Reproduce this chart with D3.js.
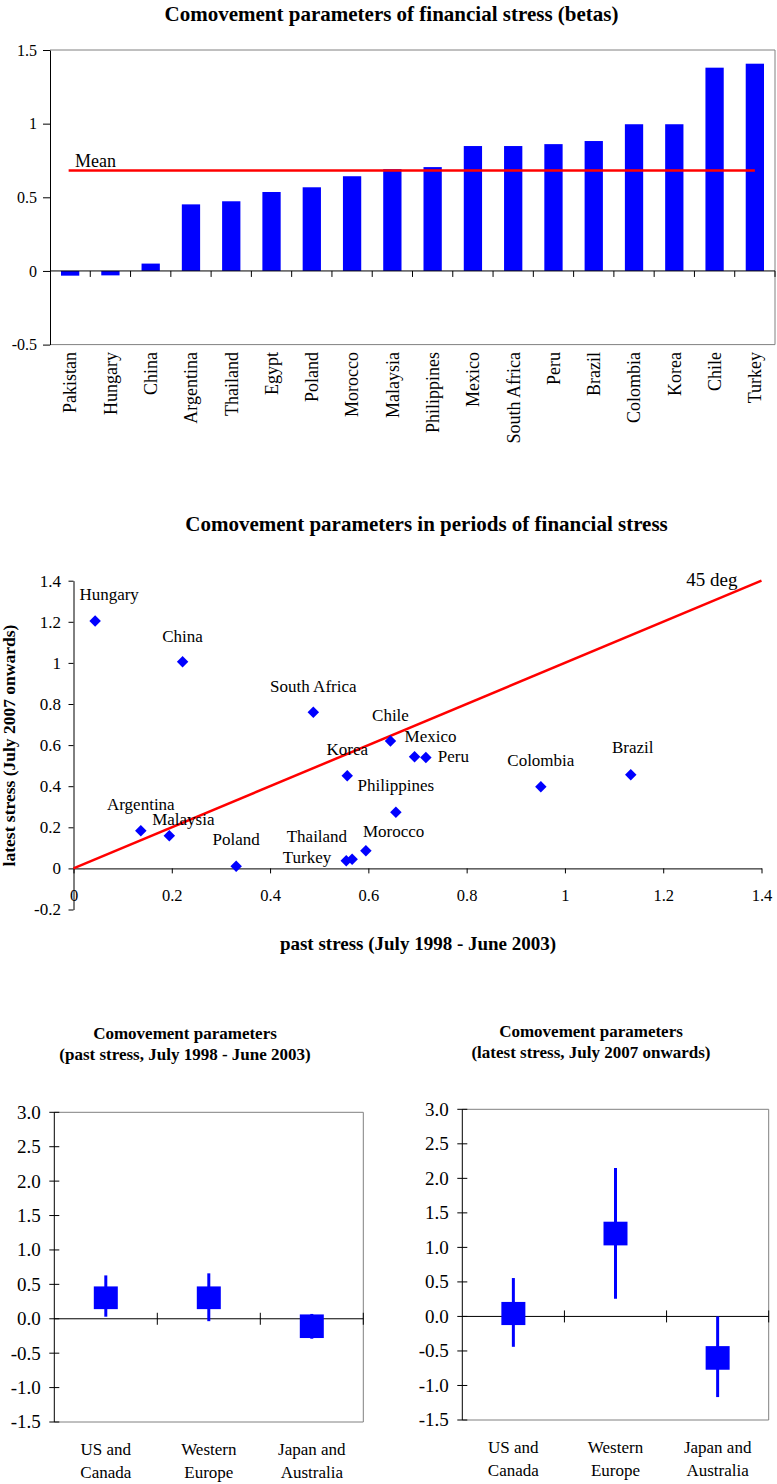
<!DOCTYPE html>
<html>
<head>
<meta charset="utf-8">
<script src="https://cdn.jsdelivr.net/npm/d3@7"></script>
<style>
  html, body { margin: 0; padding: 0; background: #fff; }
  svg { display: block; font-family: "Liberation Serif", "Times New Roman", serif; }
</style>
</head>
<body>
<svg id="chart" width="777" height="1484"></svg>
<script>
// ---------- Betas by country ----------
const betaCountries = ["Pakistan", "Hungary", "China", "Argentina", "Thailand", "Egypt", "Poland",
  "Morocco", "Malaysia", "Philippines", "Mexico", "South Africa", "Peru", "Brazil", "Colombia",
  "Korea", "Chile", "Turkey"];
const betaValues = [-0.032, -0.03, 0.05, 0.452, 0.473, 0.536, 0.568, 0.643, 0.691, 0.705, 0.848,
  0.848, 0.861, 0.882, 0.996, 0.996, 1.38, 1.407];
const betaTicks = [-0.5, 0, 0.5, 1, 1.5];

// ---------- Past vs latest stress ----------
const stressCountries = ["Hungary", "China", "South Africa", "Chile", "Mexico", "Peru", "Korea",
  "Philippines", "Colombia", "Brazil", "Argentina", "Malaysia", "Poland", "Thailand", "Turkey", "Morocco"];
const pastStress = [0.044, 0.222, 0.488, 0.645, 0.694, 0.717, 0.557, 0.656, 0.951, 1.134, 0.137,
  0.195, 0.331, 0.567, 0.555, 0.595];
const latestStress = [1.204, 1.006, 0.760, 0.620, 0.543, 0.540, 0.451, 0.273, 0.397, 0.456, 0.183,
  0.159, 0.011, 0.044, 0.037, 0.086];
const stressTicksX = [0, 0.2, 0.4, 0.6, 0.8, 1, 1.2, 1.4];
const stressTicksY = [-0.2, 0, 0.2, 0.4, 0.6, 0.8, 1, 1.2, 1.4];

// ---------- Regional comovement ranges ----------
const regionNames = ["US and Canada", "Western Europe", "Japan and Australia"];
const regionLines = [["US and", "Canada"], ["Western", "Europe"], ["Japan and", "Australia"]];
const pastWhiskerLow  = [0.03, -0.035, -0.29];
const pastBoxLow      = [0.14, 0.14, -0.28];
const pastBoxHigh     = [0.47, 0.47, 0.063];
const pastWhiskerHigh = [0.63, 0.66, 0.07];
const latestWhiskerLow  = [-0.44, 0.256, -1.168];
const latestBoxLow      = [-0.125, 1.029, -0.772];
const latestBoxHigh     = [0.21, 1.372, -0.43];
const latestWhiskerHigh = [0.556, 2.15, 0.0];
const rangeTicks = [-1.5, -1, -0.5, 0, 0.5, 1, 1.5, 2, 2.5, 3];

// label placement around scatter points (anchor, dx, dy in px)
const labelPlacement = {
  "Hungary": ["middle", 14, -21], "China": ["middle", 0, -20], "South Africa": ["middle", 0, -20],
  "Chile": ["middle", 0, -20], "Mexico": ["middle", 16, -15], "Peru": ["start", 12, 5],
  "Korea": ["middle", 0, -21], "Philippines": ["middle", 0, -21], "Colombia": ["middle", 0, -21],
  "Brazil": ["middle", 2, -22], "Argentina": ["middle", 0, -21], "Malaysia": ["middle", 14, -11],
  "Poland": ["middle", 0, -21], "Thailand": ["end", -5, -17], "Turkey": ["end", -15, 2],
  "Morocco": ["start", -3, -14]
};

const FONT = "Liberation Serif, Times New Roman, serif";
const BLUE = "#0000ff", RED = "#ff0000", FRAME = "#808080";
const svg = d3.select("#chart");
svg.append("rect").attr("width", 777).attr("height", 1484).attr("fill", "#fff");

function styleAxis(g, size) {
  g.attr("font-family", FONT).attr("font-size", size);
  g.selectAll("path.domain").attr("stroke", "#000");
  g.selectAll(".tick line").attr("stroke", "#000");
  g.selectAll(".tick text").attr("fill", "#000");
}
const fmt = d => String(+d.toFixed(2));

// =============== Panel 1: bar chart of betas ===============
{
  const box = { left: 50, right: 775, top: 50, bottom: 344.6 };
  const x = d3.scaleBand().domain(betaCountries).range([box.left, box.right])
    .paddingInner(0.546).paddingOuter(0.273);
  const y = d3.scaleLinear().domain([-0.5, 1.5]).range([box.bottom, box.top]);
  const g = svg.append("g");

  g.append("text").attr("x", 391.5).attr("y", 21).attr("text-anchor", "middle")
    .attr("font-weight", "bold").attr("font-size", 21).text("Comovement parameters of financial stress (betas)");

  g.append("path")
    .attr("d", `M${box.left},${box.top}H${box.right}V${box.bottom}H${box.left}`)
    .attr("fill", "none").attr("stroke", FRAME).attr("stroke-width", 1);

  g.selectAll("rect.bar").data(betaCountries).join("rect").attr("class", "bar")
    .attr("x", d => x(d)).attr("width", x.bandwidth())
    .attr("y", (d, i) => y(Math.max(0, betaValues[i])))
    .attr("height", (d, i) => Math.abs(y(betaValues[i]) - y(0)))
    .attr("fill", BLUE);

  const zero = g.append("g").attr("transform", `translate(0,${y(0)})`);
  zero.append("line").attr("x1", box.left).attr("x2", box.right).attr("stroke", "#000");
  zero.selectAll("line.tk").data(d3.range(1, betaCountries.length + 1)).join("line").attr("class", "tk")
    .attr("x1", k => box.left + k * x.step()).attr("x2", k => box.left + k * x.step())
    .attr("y1", 0).attr("y2", 6).attr("stroke", "#000");

  const ya = g.append("g").attr("transform", `translate(${box.left},0)`)
    .call(d3.axisLeft(y).tickValues(betaTicks).tickFormat(fmt).tickSize(7).tickPadding(6).tickSizeOuter(0));
  styleAxis(ya, 16);

  g.selectAll("text.cat").data(betaCountries).join("text").attr("class", "cat")
    .attr("transform", d => `translate(${x(d) + x.bandwidth() / 2},352) rotate(-90)`)
    .attr("text-anchor", "end").attr("dy", "0.35em").attr("font-size", 18).text(d => d);

  const mean = d3.mean(betaValues);
  const c0 = x(betaCountries[0]) + x.bandwidth() / 2;
  const c1 = x(betaCountries[betaCountries.length - 1]) + x.bandwidth() / 2;
  g.append("line").attr("x1", c0 - 1.5).attr("x2", c1).attr("y1", y(mean)).attr("y2", y(mean))
    .attr("stroke", RED).attr("stroke-width", 2.5);
  g.append("text").attr("x", 75).attr("y", y(mean) - 3.5).attr("font-size", 18).text("Mean");
}

// =============== Panel 2: scatter of past vs latest stress ===============
{
  const x = d3.scaleLinear().domain([0, 1.4]).range([73.5, 761.5]);
  const y = d3.scaleLinear().domain([-0.2, 1.4]).range([909.5, 580.7]);
  const g = svg.append("g");

  g.append("text").attr("x", 426.5).attr("y", 531).attr("text-anchor", "middle")
    .attr("font-weight", "bold").attr("font-size", 21)
    .text("Comovement parameters in periods of financial stress");

  const ya = g.append("g").attr("transform", `translate(${x(0)},0)`)
    .call(d3.axisLeft(y).tickValues(stressTicksY).tickFormat(fmt).tickSize(5).tickPadding(7.5).tickSizeOuter(0));
  styleAxis(ya, 17);

  const xa = g.append("g").attr("transform", `translate(0,${y(0)})`)
    .call(d3.axisBottom(x).tickValues(stressTicksX).tickFormat(fmt).tickSize(5).tickPadding(16).tickSizeOuter(0));
  styleAxis(xa, 16.5);

  g.append("line").attr("x1", x(0)).attr("y1", y(0)).attr("x2", x(1.4)).attr("y2", y(1.4))
    .attr("stroke", RED).attr("stroke-width", 2.5);
  g.append("text").attr("x", x(1.4) - 24).attr("y", y(1.4) + 5.5).attr("text-anchor", "end")
    .attr("font-size", 19).text("45 deg");

  const diamond = d3.symbol().type(d3.symbolSquare).size(66)();
  g.selectAll("path.pt").data(stressCountries).join("path").attr("class", "pt")
    .attr("d", diamond)
    .attr("transform", (d, i) => `translate(${x(pastStress[i])},${y(latestStress[i])}) rotate(45)`)
    .attr("fill", BLUE);

  g.selectAll("text.lbl").data(stressCountries).join("text").attr("class", "lbl")
    .attr("x", (d, i) => x(pastStress[i]) + labelPlacement[d][1])
    .attr("y", (d, i) => y(latestStress[i]) + labelPlacement[d][2])
    .attr("text-anchor", d => labelPlacement[d][0])
    .attr("font-size", 17).text(d => d);

  g.append("text").attr("x", 418).attr("y", 950).attr("text-anchor", "middle")
    .attr("font-weight", "bold").attr("font-size", 19).text("past stress (July 1998 - June 2003)");
  g.append("text").attr("transform", "translate(15,745.5) rotate(-90)").attr("text-anchor", "middle")
    .attr("font-weight", "bold").attr("font-size", 17.5).text("latest stress (July 2007 onwards)");
}

// =============== Panels 3 & 4: regional ranges ===============
function drawRanges(box, titleLines, titleX, titleY, wLow, bLow, bHigh, wHigh) {
  const x = d3.scaleBand().domain(regionNames).range([box.left, box.right]);
  const y = d3.scaleLinear().domain([-1.5, 3]).range([box.bottom, box.top]);
  const g = svg.append("g");

  titleLines.forEach((t, i) => {
    g.append("text").attr("x", titleX).attr("y", titleY[i]).attr("text-anchor", "middle")
      .attr("font-weight", "bold").attr("font-size", 17).text(t);
  });

  g.append("path")
    .attr("d", `M${box.left},${box.top}H${box.right}V${box.bottom}H${box.left}`)
    .attr("fill", "none").attr("stroke", FRAME);

  // zero line with category dividers
  g.append("line").attr("x1", box.left).attr("x2", box.right).attr("y1", y(0)).attr("y2", y(0)).attr("stroke", "#000");
  g.selectAll("line.div").data(d3.range(1, regionNames.length + 1)).join("line").attr("class", "div")
    .attr("x1", k => box.left + k * x.step()).attr("x2", k => box.left + k * x.step())
    .attr("y1", y(0) - 6).attr("y2", y(0) + 6).attr("stroke", "#000");

  // value axis with crossing ticks
  g.append("line").attr("x1", box.left).attr("x2", box.left).attr("y1", box.top).attr("y2", box.bottom).attr("stroke", "#000");
  g.selectAll("line.yt").data(rangeTicks).join("line").attr("class", "yt")
    .attr("x1", box.left - 5).attr("x2", box.left + 5).attr("y1", d => y(d)).attr("y2", d => y(d)).attr("stroke", "#000");
  g.selectAll("text.yl").data(rangeTicks).join("text").attr("class", "yl")
    .attr("x", box.left - 13.5).attr("y", d => y(d)).attr("dy", "0.34em").attr("text-anchor", "end")
    .attr("font-size", 19).text(d => d.toFixed(1));

  const cx = d => x(d) + x.bandwidth() / 2;
  g.selectAll("line.wh").data(regionNames).join("line").attr("class", "wh")
    .attr("x1", cx).attr("x2", cx)
    .attr("y1", (d, i) => y(wHigh[i])).attr("y2", (d, i) => y(wLow[i]))
    .attr("stroke", BLUE).attr("stroke-width", 3);
  const bw = 24;
  g.selectAll("rect.bx").data(regionNames).join("rect").attr("class", "bx")
    .attr("x", d => cx(d) - bw / 2).attr("width", bw)
    .attr("y", (d, i) => y(bHigh[i])).attr("height", (d, i) => y(bLow[i]) - y(bHigh[i]))
    .attr("fill", BLUE);

  regionNames.forEach((d, i) => {
    regionLines[i].forEach((line, j) => {
      g.append("text").attr("x", cx(d)).attr("y", box.bottom + 33 + j * 23)
        .attr("text-anchor", "middle").attr("font-size", 17).text(line);
    });
  });
}

drawRanges({ left: 54.3, right: 363.3, top: 1112.3, bottom: 1422 },
  ["Comovement parameters", "(past stress, July 1998 - June 2003)"], 185, [1039, 1060],
  pastWhiskerLow, pastBoxLow, pastBoxHigh, pastWhiskerHigh);

drawRanges({ left: 462.3, right: 768.7, top: 1109.3, bottom: 1420 },
  ["Comovement parameters", "(latest stress, July 2007 onwards)"], 591, [1037, 1058],
  latestWhiskerLow, latestBoxLow, latestBoxHigh, latestWhiskerHigh);
</script>
</body>
</html>
